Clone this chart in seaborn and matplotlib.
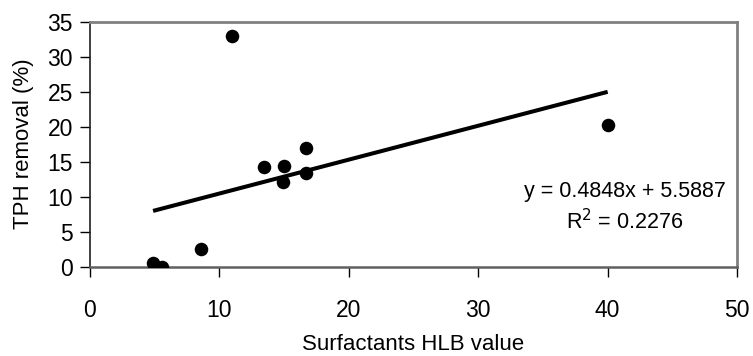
import numpy as np
import pandas as pd
import matplotlib
matplotlib.use("Agg")
import matplotlib.pyplot as plt
import seaborn as sns

# Data
hlb = [4.9, 5.6, 8.6, 11.0, 13.5, 15.0, 14.9, 16.7, 16.7, 40.0]
tph_removal = [0.5, 0.0, 2.5, 32.9, 14.3, 14.4, 12.1, 16.9, 13.4, 20.3]
slope = 0.4848
intercept = 5.5887
r_squared = 0.2276
x_ticks = [0, 10, 20, 30, 40, 50]
y_ticks = [0, 5, 10, 15, 20, 25, 30, 35]

sns.set_theme(style="white")
plt.rcParams["font.family"] = ["Liberation Sans", "DejaVu Sans"]
plt.rcParams["text.color"] = "black"
plt.rcParams["axes.labelcolor"] = "black"
plt.rcParams["xtick.color"] = "black"
plt.rcParams["ytick.color"] = "black"

df = pd.DataFrame({"HLB": hlb, "TPH": tph_removal})
xs = np.array([min(hlb), max(hlb)])
trend = pd.DataFrame({"x": xs, "y": slope * xs + intercept})

fig = plt.figure(figsize=(7.53, 3.56), dpi=100)
ax = fig.add_axes([0.119, 0.251, 0.860, 0.688])

sns.lineplot(data=trend, x="x", y="y", ax=ax, color="black", linewidth=2.9,
             solid_capstyle="butt", zorder=2)
sns.scatterplot(data=df, x="HLB", y="TPH", ax=ax, color="black", s=95,
                edgecolor="black", linewidth=0, zorder=3)

ax.set_xlim(0, 50)
ax.set_ylim(0, 35)
ax.set_xticks(x_ticks)
ax.set_yticks(y_ticks)
ax.set_xticklabels([str(t) for t in x_ticks])
ax.set_yticklabels([str(t) for t in y_ticks])

ax.tick_params(axis="x", which="major", direction="out", length=7, width=1,
               color="black", labelcolor="black", labelsize=16.5, pad=16, bottom=True)
ax.tick_params(axis="y", which="major", direction="out", length=7, width=1,
               color="black", labelcolor="black", labelsize=16.5, pad=5, left=True)

ax.set_xlabel("Surfactants HLB value", fontsize=16, labelpad=9, color="black")
ax.set_ylabel("TPH removal (%)", fontsize=16, labelpad=10, color="black")

for side in ["top", "right"]:
    ax.spines[side].set_color("#808080")
    ax.spines[side].set_linewidth(2)
ax.spines["left"].set_color("#202020")
ax.spines["left"].set_linewidth(1.2)
ax.spines["bottom"].set_color("#606060")
ax.spines["bottom"].set_linewidth(1.8)

ax.text(41.3, 10.8, f"y = {slope}x + {intercept}", fontsize=15.5,
        ha="center", va="center", color="black")
ax.text(41.3, 6.4, f"R$^2$ = {r_squared}", fontsize=15.5,
        ha="center", va="center", color="black")

fig.savefig("out.png", dpi=100)
